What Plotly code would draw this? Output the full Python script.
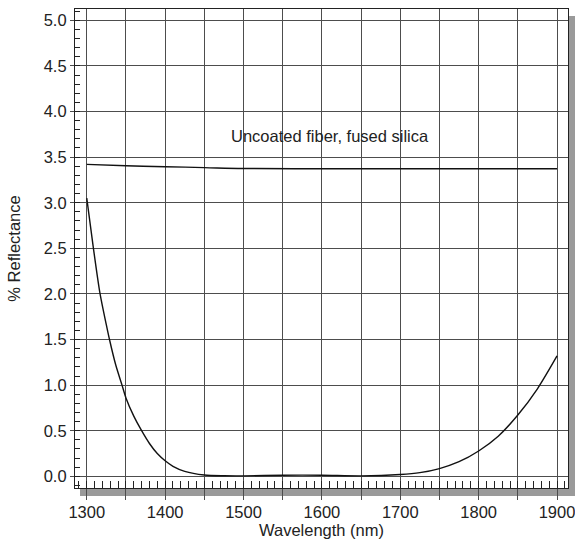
import plotly.graph_objects as go

# Data
coated_wl = [1300, 1308.5, 1317, 1325, 1329, 1337, 1345, 1350, 1360, 1370, 1380, 1390, 1400, 1410,
             1425, 1450, 1475, 1500, 1550, 1600, 1650, 1700, 1725, 1750, 1775, 1800, 1825,
             1850, 1875, 1900]
coated_r = [3.05, 2.5, 2.0, 1.66, 1.5, 1.22, 1.0, 0.86, 0.66, 0.5, 0.36, 0.25, 0.17, 0.11,
            0.055, 0.015, 0.006, 0.005, 0.012, 0.012, 0.005, 0.02, 0.04, 0.085, 0.16, 0.278, 0.44,
            0.672, 0.96, 1.32]

uncoated_wl = [1300, 1350, 1400, 1450, 1500, 1600, 1700, 1800, 1900]
uncoated_r = [3.42, 3.405, 3.395, 3.385, 3.375, 3.373, 3.373, 3.373, 3.373]

x_tickvals = [1300, 1350, 1400, 1450, 1500, 1550, 1600, 1650, 1700, 1750, 1800, 1850, 1900]
x_ticktext = ["1300", "", "1400", "", "1500", "", "1600", "", "1700", "", "1800", "", "1900"]

annotation_text = "Uncoated fiber, fused silica"
x_title = "Wavelength (nm)"
y_title = "% Reflectance"

FONT = "Liberation Sans, Arial, sans-serif"
FS = 16.5
GRID = "#4d4d4d"

fig = go.Figure()
fig.add_trace(go.Scatter(x=uncoated_wl, y=uncoated_r, mode="lines",
                         line=dict(color="#111111", width=1.4, shape="spline"),
                         showlegend=False))
fig.add_trace(go.Scatter(x=coated_wl, y=coated_r, mode="lines",
                         line=dict(color="#111111", width=1.4, shape="spline", smoothing=0.8),
                         showlegend=False))

fig.add_annotation(x=1610, y=3.73, text=annotation_text, showarrow=False,
                   font=dict(family=FONT, size=FS, color="#222222"))

W_PLOT = 493.0
H_PLOT = 479.0
# x-axis title placed under the tick labels
fig.add_annotation(x=0.5, xref="paper", y=0, yref="paper", yanchor="middle",
                   yshift=-(530 - 488), text=x_title, showarrow=False,
                   font=dict(family=FONT, size=FS, color="#222222"))

# drop shadow (right and bottom)
fig.add_shape(type="rect", xref="paper", yref="paper", layer="below",
              x0=1, x1=1 + 8 / W_PLOT, y0=-8 / H_PLOT, y1=1 - 7 / H_PLOT,
              fillcolor="#9a9a9a", line=dict(width=0))
fig.add_shape(type="rect", xref="paper", yref="paper", layer="below",
              x0=5 / W_PLOT, x1=1 + 8 / W_PLOT, y0=-8 / H_PLOT, y1=0,
              fillcolor="#9a9a9a", line=dict(width=0))

fig.update_layout(
    width=575, height=539,
    margin=dict(l=75, r=7, t=9, b=51, autoexpand=False),
    paper_bgcolor="white", plot_bgcolor="white",
    font=dict(family=FONT, size=FS, color="#222222"),
    xaxis=dict(range=[1285, 1914], tickmode="array", tickvals=x_tickvals, ticktext=x_ticktext,
               showgrid=True, gridcolor=GRID, gridwidth=1.2,
               showline=True, linecolor="#222222", linewidth=1.2, mirror=True,
               ticks="outside", ticklen=11, tickcolor=GRID, tickwidth=1.2,
               tickfont=dict(size=FS), automargin=False, ticklabeloverflow="allow",
               ticklabelstandoff=-2,
               minor=dict(tickmode="linear", tick0=1300, dtick=10, ticks="inside", ticklen=7,
                          tickcolor="#222222", tickwidth=1, showgrid=False),
               zeroline=False),
    yaxis=dict(range=[-0.128, 5.124], tickmode="linear", tick0=0, dtick=0.5, tickformat=".1f",
               showgrid=True, gridcolor=GRID, gridwidth=1.2,
               showline=True, linecolor="#222222", linewidth=1.2, mirror=True,
               ticks="outside", ticklen=4, tickcolor=GRID, tickwidth=1.2,
               tickfont=dict(size=FS), automargin=False,
               minor=dict(tickmode="linear", tick0=0, dtick=0.1, ticks="inside", ticklen=5,
                          tickcolor="#222222", tickwidth=1, showgrid=False),
               title=dict(text=y_title, font=dict(size=FS), standoff=18),
               zeroline=False),
)

fig.write_html("out.html", config={"displayModeBar": False},
               post_script="document.body.style.margin='0';")
